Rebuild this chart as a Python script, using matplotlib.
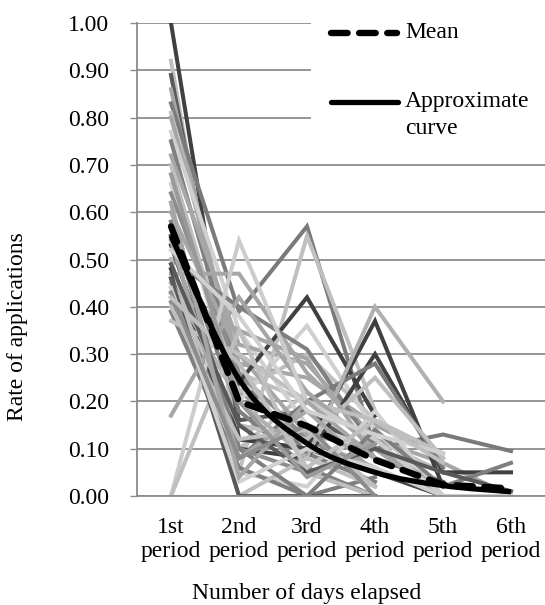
import numpy as np
import matplotlib
matplotlib.use('Agg')
import matplotlib.pyplot as plt
from matplotlib.path import Path
from matplotlib.patches import PathPatch, Rectangle
from matplotlib.lines import Line2D

plt.rcParams['font.family'] = ['Liberation Serif', 'DejaVu Serif']

nan = np.nan
periods = ['1st\nperiod', '2nd\nperiod', '3rd\nperiod', '4th\nperiod', '5th\nperiod', '6th\nperiod']

# individual series (rate of applications per period)
series = [
    [1.00, 0.12, 0.10, 0.05, 0.00, nan],
    [0.92, 0.10, 0.22, 0.10, 0.02, nan],
    [0.89, 0.16, 0.18, 0.08, 0.03, nan],
    [0.86, 0.22, 0.12, 0.06, nan, nan],
    [0.83, 0.39, 0.57, 0.10, 0.13, 0.095],
    [0.81, 0.26, 0.20, 0.12, 0.05, nan],
    [0.80, 0.28, 0.25, 0.15, 0.08, nan],
    [0.77, 0.35, 0.15, 0.10, nan, nan],
    [0.75, 0.25, 0.09, 0.03, nan, nan],
    [0.72, 0.32, 0.28, 0.12, 0.07, 0.00],
    [0.70, 0.22, 0.30, 0.16, 0.09, nan],
    [0.66, 0.20, 0.36, 0.14, 0.00, nan],
    [0.64, 0.26, 0.12, 0.05, nan, nan],
    [0.62, 0.05, 0.55, 0.18, nan, nan],
    [0.60, 0.30, 0.13, 0.10, 0.02, nan],
    [0.57, 0.18, 0.06, 0.00, nan, nan],
    [0.55, 0.24, 0.42, 0.17, nan, nan],
    [0.53, 0.12, 0.10, 0.37, 0.02, nan],
    [0.47, 0.47, 0.26, 0.12, nan, nan],
    [0.50, 0.40, 0.31, 0.10, 0.00, nan],
    [0.48, 0.10, 0.08, 0.30, 0.05, 0.05],
    [0.46, 0.08, 0.20, 0.28, 0.06, nan],
    [0.45, 0.20, 0.08, 0.40, 0.20, nan],
    [0.44, 0.15, 0.12, 0.25, 0.08, nan],
    [0.43, 0.35, 0.29, 0.08, nan, nan],
    [0.42, 0.05, 0.02, 0.18, 0.00, nan],
    [0.41, 0.10, 0.05, 0.00, nan, nan],
    [0.39, 0.06, 0.00, 0.04, nan, nan],
    [0.37, 0.30, 0.20, 0.16, 0.09, nan],
    [0.17, 0.42, 0.22, 0.10, 0.00, nan],
    [0.00, 0.54, 0.20, 0.12, 0.00, nan],
    [0.00, 0.35, 0.05, 0.00, nan, nan],
    [0.50, 0.00, 0.08, 0.02, nan, nan],
    [0.46, 0.00, 0.00, 0.00, nan, nan],
    [0.58, 0.10, 0.00, 0.14, 0.02, 0.07],
    [0.54, 0.08, 0.18, 0.05, nan, nan],
    [0.49, 0.15, 0.05, 0.10, 0.05, 0.01],
    [0.44, 0.03, 0.10, 0.06, 0.00, 0.00],
    [0.40, 0.12, 0.14, 0.02, nan, nan],
    [0.62, 0.04, 0.20, 0.08, nan, nan],
    [0.68, 0.20, 0.04, 0.11, nan, nan],
    [0.43, 0.08, 0.15, 0.00, nan, nan],
    [0.52, 0.38, 0.18, 0.13, 0.09, nan],
    [0.42, 0.28, 0.06, 0.16, 0.07, nan],
]
series_grey = ['#404040', '#bfbfbf', '#595959', '#a6a6a6', '#7a7a7a', '#bfbfbf', '#a6a6a6',
               '#d0d0d0', '#7f7f7f', '#a6a6a6', '#bfbfbf', '#d0d0d0', '#8c8c8c', '#bfbfbf',
               '#a6a6a6', '#7f7f7f', '#404040', '#404040', '#a6a6a6', '#7f7f7f', '#404040',
               '#7a7a7a', '#b0b0b0', '#bfbfbf', '#a6a6a6', '#d0d0d0', '#8c8c8c', '#7f7f7f',
               '#bfbfbf', '#a6a6a6', '#cccccc', '#bfbfbf', '#bfbfbf', '#595959', '#7f7f7f',
               '#a6a6a6', '#595959', '#d0d0d0', '#bfbfbf', '#a6a6a6', '#999999', '#8c8c8c',
               '#d0d0d0', '#bfbfbf']

mean_vals = [0.57, 0.20, 0.148, 0.076, 0.024, 0.016]
approx_vals = [0.55, 0.247, 0.111, 0.050, 0.022, 0.009]

fig = plt.figure(figsize=(5.45, 6.05), dpi=100)
ax = fig.add_axes([137 / 545, 1 - 496 / 605, 408 / 545, 473 / 605])
x = np.arange(len(periods))

for vals, c in zip(series, series_grey):
    ax.plot(x, vals, color=c, lw=2.9, solid_joinstyle='miter', zorder=2)

ax.plot(x, mean_vals, color='black', lw=4.6, dashes=(2.6, 1.8), dash_capstyle='round', zorder=4)

# smoothed line like the spreadsheet "smoothed line" option
p = np.column_stack([x, approx_vals]).astype(float)
verts = [tuple(p[0])]
codes = [Path.MOVETO]
for i in range(len(p) - 1):
    p0 = p[i - 1] if i > 0 else p[i]
    p3 = p[i + 2] if i + 2 < len(p) else p[i + 1]
    c1 = p[i] + (p[i + 1] - p0) / 6
    c2 = p[i + 1] - (p3 - p[i]) / 6
    verts += [tuple(c1), tuple(c2), tuple(p[i + 1])]
    codes += [Path.CURVE4] * 3
ax.add_patch(PathPatch(Path(verts, codes), fill=False, ec='black', lw=3.8, zorder=3))

ax.set_xlim(-0.5, 5.5)
ax.set_ylim(0, 1.0)
ax.set_yticks(np.arange(0, 1.01, 0.1))
ax.set_yticklabels(['%.2f' % v for v in np.arange(0, 1.01, 0.1)])
ax.set_xticks(x)
ax.set_xticklabels(periods)
ax.grid(axis='y', color='#8c8c8c', lw=1.3, zorder=0)
ax.set_axisbelow(True)
for s in ['top', 'right']:
    ax.spines[s].set_visible(False)
for s in ['left', 'bottom']:
    ax.spines[s].set_color('#8c8c8c')
    ax.spines[s].set_linewidth(1.3)
ax.tick_params(axis='y', length=5, width=1, color='#8c8c8c', labelsize=17, pad=15)
ax.tick_params(axis='x', length=0, labelsize=17, pad=15)

fig.text(18 / 545, 1 - 327 / 605, 'Rate of applications', rotation=90, ha='center', va='center', fontsize=17)
fig.text(307 / 545, 1 - 593 / 605, 'Number of days elapsed', ha='center', va='center', fontsize=17)

# legend
fig.add_artist(Rectangle((311 / 545, 1 - 145 / 605), 234 / 545, 145 / 605,
                         transform=fig.transFigure, fc='white', ec='none', zorder=5))
fig.add_artist(Line2D([331 / 545, 397 / 545], [1 - 33 / 605] * 2, transform=fig.transFigure,
                      color='black', lw=4.6, dashes=(2.6, 1.8), dash_capstyle='round', zorder=6))
fig.add_artist(Line2D([331 / 545, 398 / 545], [1 - 102 / 605] * 2, transform=fig.transFigure,
                      color='black', lw=3.8, solid_capstyle='round', zorder=6))
fig.text(405 / 545, 1 - 33 / 605, 'Mean', ha='left', va='center', fontsize=17, zorder=7)
fig.text(405 / 545, 1 - 102 / 605, 'Approximate', ha='left', va='center', fontsize=17, zorder=7)
fig.text(405 / 545, 1 - 128 / 605, 'curve', ha='left', va='center', fontsize=17, zorder=7)

fig.savefig('out.png', dpi=100)
